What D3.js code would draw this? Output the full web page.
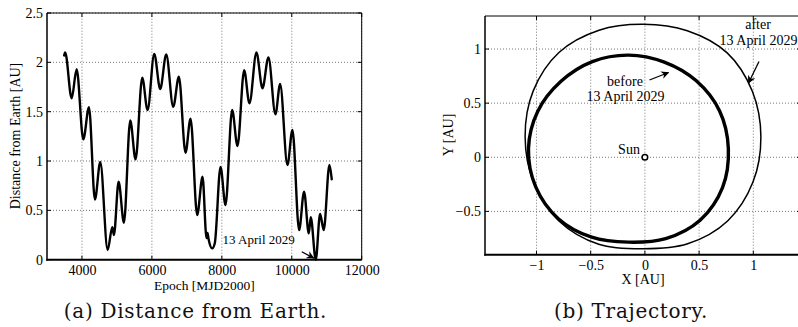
<!DOCTYPE html>
<html>
<head>
<meta charset="utf-8">
<script src="https://cdn.jsdelivr.net/npm/d3@7"></script>
<style>
  html, body { margin: 0; padding: 0; background: #fff; }
  svg { display: block; }
</style>
</head>
<body>
<svg id="fig" width="798" height="327"></svg>
<script>
// ---- (a) distance of the asteroid from Earth over time ----
const epoch = [3490, 3520, 3705, 3848, 4038, 4200, 4371, 4524, 4734, 4867, 4914, 5048, 5200,
  5381, 5533, 5724, 5876, 6067, 6238, 6410, 6610, 6771, 6962, 7105, 7295, 7448, 7562, 7590,
  7620, 7724, 7800, 7962, 8105, 8295, 8448, 8638, 8790, 8990, 9162, 9333, 9533, 9667, 9876,
  10019, 10210, 10352, 10486, 10543, 10686, 10810, 10914, 11077, 11143];
const distance = [2.07, 2.10, 1.635, 1.93, 1.22, 1.545, 0.61, 0.99, 0.098, 0.33, 0.25, 0.79, 0.375,
  1.41, 1.017, 1.845, 1.517, 2.084, 1.73, 2.08, 1.55, 1.854, 1.084, 1.43, 0.453, 0.84, 0.22, 0.27,
  0.21, 0.115, 0.17, 0.94, 0.554, 1.517, 1.152, 1.92, 1.585, 2.1, 1.737, 2.05, 1.473, 1.78, 0.96,
  1.314, 0.30, 0.69, 0.267, 0.43, 0.0, 0.463, 0.30, 0.96, 0.815];
const epochTicks = [4000, 6000, 8000, 10000, 12000];
const distanceTicks = [0, 0.5, 1, 1.5, 2, 2.5];
const flybyEpoch = 10686;
const flybyLabel = "13 April 2029";

// ---- (b) heliocentric trajectory, before and after the flyby ----
const beforeX = [0.77, 0.689, 0.474, 0.179, -0.152, -0.485, -0.774, -0.988,
  -1.074, -1.007, -0.799, -0.491, -0.152, 0.192, 0.509, 0.716];
const beforeY = [0.08, 0.428, 0.706, 0.879, 0.944, 0.884, 0.702, 0.426,
  0.08, -0.274, -0.567, -0.738, -0.784, -0.751, -0.581, -0.28];
const afterX = [1.07, 0.992, 0.759, 0.391, -0.015, -0.423, -0.793, -1.031,
  -1.105, -1.027, -0.793, -0.426, -0.015, 0.394, 0.763, 0.997];
const afterY = [0.19, 0.607, 0.964, 1.169, 1.228, 1.174, 0.968, 0.611,
  0.19, -0.229, -0.588, -0.803, -0.845, -0.799, -0.588, -0.229];
const posTicksX = [-1, -0.5, 0, 0.5, 1];
const posTicksY = [-0.5, 0, 0.5, 1];
const fmt = d => (d < 0 ? "\u2212" + Math.abs(d) : String(d));

const SERIF = "'Liberation Serif', 'Times New Roman', Times, serif";
const CAPTION = "'DejaVu Serif', 'Liberation Serif', serif";

const svg = d3.select("#fig");
svg.append("rect").attr("width", 798).attr("height", 327).attr("fill", "#fff");
const defs = svg.append("defs");
defs.append("marker").attr("id", "arrow")
  .attr("viewBox", "0 0 10 10").attr("refX", 9).attr("refY", 5)
  .attr("markerWidth", 8).attr("markerHeight", 8).attr("markerUnits", "userSpaceOnUse")
  .attr("orient", "auto")
  .append("path").attr("d", "M0,0 L10,5 L0,10 L3,5 Z").attr("fill", "#000");

function label(g, txt, x, y, size, anchor) {
  return g.append("text").attr("x", x).attr("y", y)
    .attr("text-anchor", anchor || "middle")
    .style("font-family", SERIF).style("font-size", (size || 14) + "px").style("fill", "#000")
    .text(txt);
}

function caption(g, txt, x) {
  return g.append("text").attr("x", x).attr("y", 318).attr("text-anchor", "middle")
    .style("font-family", CAPTION).style("font-size", "20px").style("letter-spacing", "0.7px")
    .style("fill", "#111").text(txt);
}

function gridAndTicks(g, x, y, xt, yt) {
  const [x0, x1] = x.range(), [y0, y1] = y.range();
  const grid = g.append("g").attr("stroke", "#777").attr("stroke-width", 1).attr("stroke-dasharray", "1,2");
  grid.selectAll(".gx").data(xt).join("line")
    .attr("x1", d => x(d)).attr("x2", d => x(d)).attr("y1", y0).attr("y2", y1);
  grid.selectAll(".gy").data(yt).join("line")
    .attr("y1", d => y(d)).attr("y2", d => y(d)).attr("x1", x0).attr("x2", x1);
  // tick marks pointing inwards on every side
  const tk = g.append("g").attr("stroke", "#000").attr("stroke-width", 1);
  tk.selectAll(".tb").data(xt).join("line")
    .attr("x1", d => x(d)).attr("x2", d => x(d)).attr("y1", y0).attr("y2", y0 - 4);
  tk.selectAll(".tt").data(xt).join("line")
    .attr("x1", d => x(d)).attr("x2", d => x(d)).attr("y1", y1).attr("y2", y1 + 4);
  tk.selectAll(".tl").data(yt).join("line")
    .attr("y1", d => y(d)).attr("y2", d => y(d)).attr("x1", x0).attr("x2", x0 + 4);
  tk.selectAll(".tr").data(yt).join("line")
    .attr("y1", d => y(d)).attr("y2", d => y(d)).attr("x1", x1).attr("x2", x1 - 4);
}

function frame(g, x, y) {
  const [x0, x1] = x.range(), [y0, y1] = y.range();
  g.append("line").attr("x1", x0).attr("x2", x1).attr("y1", y1).attr("y2", y1).attr("stroke", "#000").attr("stroke-width", 1);
  g.append("line").attr("x1", x1).attr("x2", x1).attr("y1", y0).attr("y2", y1).attr("stroke", "#000").attr("stroke-width", 1);
  g.append("line").attr("x1", x0).attr("x2", x0).attr("y1", y0 + 1).attr("y2", y1).attr("stroke", "#000").attr("stroke-width", 1.5);
  g.append("line").attr("x1", x0 - 0.7).attr("x2", x1).attr("y1", y0).attr("y2", y0).attr("stroke", "#000").attr("stroke-width", 2);
}

function tickLabels(g, x, y, xt, yt, padX, padY) {
  const [x0] = x.range(), [y0] = y.range();
  const ax = g.append("g").attr("transform", `translate(0,${y0})`)
    .call(d3.axisBottom(x).tickValues(xt).tickSize(0).tickPadding(padX).tickFormat(fmt));
  const ay = g.append("g").attr("transform", `translate(${x0},0)`)
    .call(d3.axisLeft(y).tickValues(yt).tickSize(0).tickPadding(padY).tickFormat(fmt));
  [ax, ay].forEach(a => {
    a.select(".domain").remove();
    a.attr("font-family", null).attr("font-size", null);
    a.selectAll(".tick text").style("font-family", SERIF).style("font-size", "14px").style("fill", "#000");
  });
}

// ---------- panel (a) ----------
{
  const g = svg.append("g");
  const x = d3.scaleLinear().domain([3000, 12000]).range([47, 361.7]);
  const y = d3.scaleLinear().domain([0, 2.5]).range([259.7, 13]);
  gridAndTicks(g, x, y, epochTicks, distanceTicks);
  const pts = epoch.map((e, i) => [e, distance[i]]);
  g.append("path").datum(pts)
    .attr("fill", "none").attr("stroke", "#000").attr("stroke-width", 2.4)
    .attr("stroke-linejoin", "round").attr("stroke-linecap", "round")
    .attr("d", d3.line().x(d => x(d[0])).y(d => y(d[1])).curve(d3.curveMonotoneX));
  frame(g, x, y);
  tickLabels(g, x, y, epochTicks, distanceTicks, 5.5, 4);

  // closest approach annotation
  const fx = x(flybyEpoch), fy = y(0);
  label(g, flybyLabel, fx - 21, fy - 15.5, 13, "end");
  g.append("line").attr("x1", fx - 14).attr("y1", fy - 8).attr("x2", fx - 2).attr("y2", fy - 1.5)
    .attr("stroke", "#000").attr("stroke-width", 1.3).attr("marker-end", "url(#arrow)");

  label(g, "Epoch [MJD2000]", (47 + 361.7) / 2, 290, 13.5);
  label(g, "Distance from Earth [AU]", 0, 0).attr("transform", "translate(19.5,136) rotate(-90)");
  caption(g, "(a) Distance from Earth.", 195.5);
}

// ---------- panel (b) ----------
{
  const g = svg.append("g");
  const x = d3.scaleLinear().domain([-1.475, 1.44]).range([485, 801]);
  const y = d3.scaleLinear().domain([-0.9, 1.305]).range([254.7, 16]);
  gridAndTicks(g, x, y, posTicksX, posTicksY);
  const orbit = d3.line().x(d => x(d[0])).y(d => y(d[1])).curve(d3.curveCatmullRomClosed.alpha(0.5));
  g.append("path").datum(afterX.map((v, i) => [v, afterY[i]]))
    .attr("fill", "none").attr("stroke", "#000").attr("stroke-width", 1.5).attr("d", orbit);
  g.append("path").datum(beforeX.map((v, i) => [v, beforeY[i]]))
    .attr("fill", "none").attr("stroke", "#000").attr("stroke-width", 3.4).attr("d", orbit);

  // the Sun
  g.append("circle").attr("cx", x(0)).attr("cy", y(0)).attr("r", 2.8)
    .attr("fill", "#fff").attr("stroke", "#000").attr("stroke-width", 1.5);
  label(g, "Sun", x(0) - 5, y(0) - 3.5, 14, "end");

  // orbit annotations
  label(g, "before", 625, 86);
  label(g, flybyLabel, 625.5, 100.5);
  g.append("line").attr("x1", 649.5).attr("y1", 80).attr("x2", 668.5).attr("y2", 72.5)
    .attr("stroke", "#000").attr("stroke-width", 1.3).attr("marker-end", "url(#arrow)");
  label(g, "after", 758, 28.5);
  label(g, flybyLabel, 758.5, 45);
  g.append("line").attr("x1", 759).attr("y1", 61.5).attr("x2", 748.5).attr("y2", 83)
    .attr("stroke", "#000").attr("stroke-width", 1.3).attr("marker-end", "url(#arrow)");

  frame(g, x, y);
  tickLabels(g, x, y, posTicksX, posTicksY, 5.5, 4);

  label(g, "X [AU]", 643, 284);
  label(g, "Y [AU]", 0, 0).attr("transform", "translate(453,135) rotate(-90)");
  caption(g, "(b) Trajectory.", 631);
}
</script>
</body>
</html>
